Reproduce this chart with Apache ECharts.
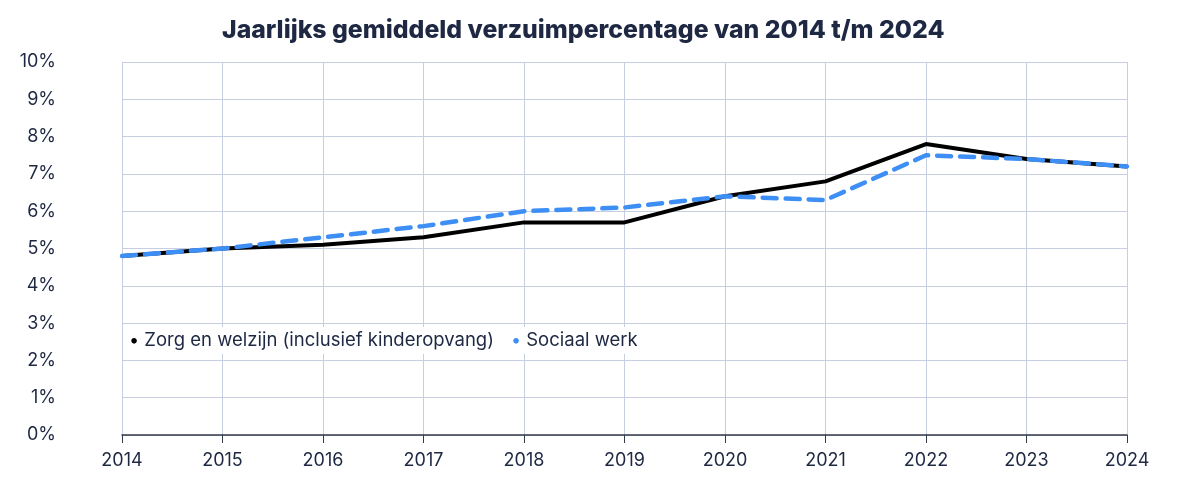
<!DOCTYPE html>
<html>
<head>
<meta charset="utf-8">
<script src="https://cdn.jsdelivr.net/npm/echarts@6/dist/echarts.min.js"></script>
<style>
  html, body { margin: 0; padding: 0; background: #fff; }
  #chart { width: 1192px; height: 478px; }
</style>
</head>
<body>
<div id="chart"></div>
<script>
var years = ['2014', '2015', '2016', '2017', '2018', '2019', '2020', '2021', '2022', '2023', '2024'];
var zorg = [4.8, 5.0, 5.1, 5.3, 5.7, 5.7, 6.4, 6.8, 7.8, 7.4, 7.2];
var sociaal = [4.8, 5.0, 5.3, 5.6, 6.0, 6.1, 6.4, 6.3, 7.5, 7.4, 7.2];
var textColor = '#1e2843';
var gridColor = '#c6cee0';

var chart = echarts.init(document.getElementById('chart'));
chart.setOption({
    animation: false,
    textStyle: { fontFamily: 'Inter, "Noto Sans", sans-serif' },
    title: {
        text: 'Jaarlijks gemiddeld verzuimpercentage van 2014 t/m 2024',
        left: 217,
        top: 13,
        textStyle: { fontSize: 24.8, fontWeight: 800, color: textColor, fontFamily: 'Inter, sans-serif' }
    },
    grid: { left: 122, right: 65, top: 62, bottom: 43 },
    legend: {
        left: 123,
        top: 327,
        itemWidth: 0,
        itemHeight: 0,
        itemGap: 11,
        backgroundColor: '#fff',
        padding: [4, 8, 4, 0],
        formatter: function (name) {
            return (name === 'Sociaal werk' ? '{b|•}' : '{k|•}') + ' ' + name;
        },
        textStyle: {
            fontSize: 18.5,
            color: textColor,
            rich: {
                k: { color: '#000000', fontSize: 18 },
                b: { color: '#3d8ef5', fontSize: 18 }
            }
        },
        data: ['Zorg en welzijn (inclusief kinderopvang)', 'Sociaal werk']
    },
    xAxis: {
        type: 'category',
        data: years,
        boundaryGap: false,
        axisLine: { lineStyle: { color: '#333a48', width: 1.5 } },
        axisTick: { show: true, alignWithLabel: true, length: 8, lineStyle: { color: '#333a48' } },
        axisLabel: { fontSize: 18, color: textColor, margin: 17 },
        splitLine: { show: true, lineStyle: { color: gridColor, width: 1 } }
    },
    yAxis: {
        type: 'value',
        min: 0,
        max: 10,
        interval: 1,
        axisLine: { show: false },
        axisTick: { show: false },
        axisLabel: { formatter: '{value}%', fontSize: 18, color: textColor, margin: 66, align: 'right' },
        splitLine: { lineStyle: { color: gridColor, width: 1 } }
    },
    series: [
        {
            name: 'Zorg en welzijn (inclusief kinderopvang)',
            type: 'line',
            data: zorg,
            symbol: 'none',
            color: '#000000',
            lineStyle: { color: '#000000', width: 4 },
            z: 2
        },
        {
            name: 'Sociaal werk',
            type: 'line',
            data: sociaal,
            symbol: 'none',
            color: '#3d8ef5',
            lineStyle: { color: '#3d8ef5', width: 4.5, type: [14, 9], cap: 'round' },
            z: 3
        }
    ]
});
</script>
</body>
</html>
